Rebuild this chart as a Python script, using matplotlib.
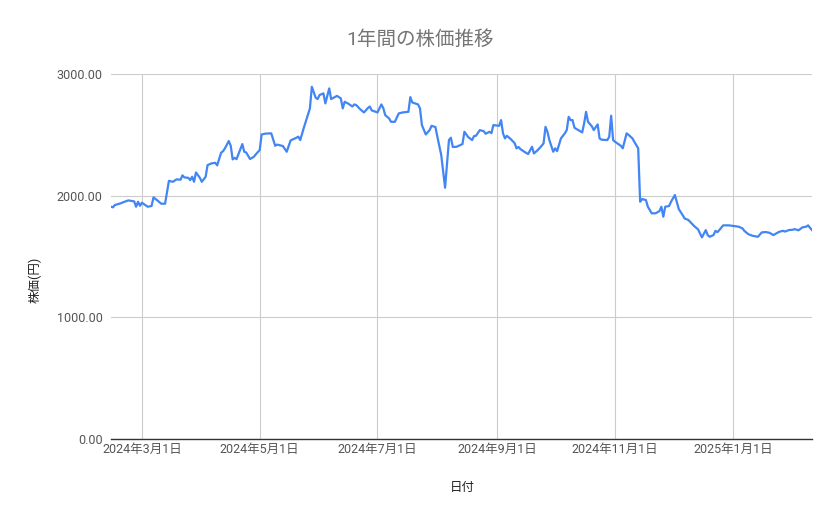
import matplotlib
matplotlib.use("Agg")
import matplotlib.pyplot as plt
import pandas as pd

plt.rcParams['font.family'] = ['Roboto', 'Noto Sans CJK JP', 'DejaVu Sans']

title = "1年間の株価推移"
x_label = "日付"
y_label = "株価(円)"

dates = [
    "2024-02-14", "2024-02-15", "2024-02-16", "2024-02-19", "2024-02-21", "2024-02-23",
    "2024-02-25", "2024-02-26", "2024-02-27", "2024-02-28", "2024-02-29", "2024-03-01",
    "2024-03-02", "2024-03-03", "2024-03-04", "2024-03-06", "2024-03-07", "2024-03-09",
    "2024-03-11", "2024-03-13", "2024-03-15", "2024-03-17", "2024-03-19", "2024-03-21",
    "2024-03-22", "2024-03-23", "2024-03-25", "2024-03-26", "2024-03-27", "2024-03-28",
    "2024-03-29", "2024-03-31", "2024-04-01", "2024-04-03", "2024-04-04", "2024-04-06",
    "2024-04-08", "2024-04-09", "2024-04-11", "2024-04-12", "2024-04-13", "2024-04-15",
    "2024-04-16", "2024-04-17", "2024-04-18", "2024-04-19", "2024-04-22", "2024-04-23",
    "2024-04-24", "2024-04-26", "2024-04-28", "2024-04-29", "2024-05-01", "2024-05-02",
    "2024-05-04", "2024-05-07", "2024-05-09", "2024-05-10", "2024-05-13", "2024-05-15",
    "2024-05-17", "2024-05-20", "2024-05-21", "2024-05-22", "2024-05-24", "2024-05-27",
    "2024-05-28", "2024-05-30", "2024-05-31", "2024-06-01", "2024-06-03", "2024-06-04",
    "2024-06-06", "2024-06-07", "2024-06-10", "2024-06-12", "2024-06-13", "2024-06-14",
    "2024-06-16", "2024-06-18", "2024-06-19", "2024-06-20", "2024-06-22", "2024-06-24",
    "2024-06-26", "2024-06-27", "2024-06-28", "2024-07-01", "2024-07-03", "2024-07-04",
    "2024-07-05", "2024-07-07", "2024-07-08", "2024-07-10", "2024-07-12", "2024-07-14",
    "2024-07-17", "2024-07-18", "2024-07-19", "2024-07-22", "2024-07-23", "2024-07-24",
    "2024-07-26", "2024-07-28", "2024-07-29", "2024-07-31", "2024-08-01", "2024-08-03",
    "2024-08-05", "2024-08-07", "2024-08-08", "2024-08-09", "2024-08-11", "2024-08-14",
    "2024-08-15", "2024-08-17", "2024-08-19", "2024-08-20", "2024-08-21", "2024-08-23",
    "2024-08-25", "2024-08-26", "2024-08-28", "2024-08-29", "2024-08-30", "2024-09-02",
    "2024-09-03", "2024-09-04", "2024-09-05", "2024-09-06", "2024-09-08", "2024-09-10",
    "2024-09-11", "2024-09-12", "2024-09-13", "2024-09-15", "2024-09-17", "2024-09-19",
    "2024-09-20", "2024-09-22", "2024-09-24", "2024-09-25", "2024-09-26", "2024-09-27",
    "2024-09-28", "2024-09-30", "2024-10-01", "2024-10-02", "2024-10-04", "2024-10-06",
    "2024-10-07", "2024-10-08", "2024-10-09", "2024-10-10", "2024-10-11", "2024-10-13",
    "2024-10-15", "2024-10-16", "2024-10-17", "2024-10-18", "2024-10-20", "2024-10-21",
    "2024-10-23", "2024-10-24", "2024-10-25", "2024-10-28", "2024-10-29", "2024-10-30",
    "2024-10-31", "2024-11-01", "2024-11-04", "2024-11-05", "2024-11-07", "2024-11-08",
    "2024-11-10", "2024-11-11", "2024-11-13", "2024-11-14", "2024-11-15", "2024-11-17",
    "2024-11-18", "2024-11-20", "2024-11-22", "2024-11-24", "2024-11-25", "2024-11-26",
    "2024-11-27", "2024-11-29", "2024-11-30", "2024-12-02", "2024-12-04", "2024-12-06",
    "2024-12-07", "2024-12-09", "2024-12-12", "2024-12-14", "2024-12-16", "2024-12-18",
    "2024-12-19", "2024-12-20", "2024-12-22", "2024-12-23", "2024-12-24", "2024-12-25",
    "2024-12-27", "2024-12-30", "2025-01-04", "2025-01-06", "2025-01-07", "2025-01-09",
    "2025-01-11", "2025-01-14", "2025-01-16", "2025-01-18", "2025-01-20", "2025-01-22",
    "2025-01-25", "2025-01-27", "2025-01-28", "2025-01-30", "2025-02-01", "2025-02-02",
    "2025-02-04", "2025-02-06", "2025-02-08", "2025-02-09", "2025-02-10", "2025-02-11",
]

prices = [
    1909, 1904, 1923, 1937, 1950, 1961,
    1956, 1953, 1909, 1950, 1917, 1942,
    1931, 1920, 1909, 1915, 1986, 1961,
    1934, 1934, 2122, 2114, 2134, 2131,
    2167, 2150, 2147, 2128, 2155, 2114,
    2191, 2147, 2114, 2155, 2251, 2265,
    2270, 2249, 2353, 2365, 2389, 2449,
    2410, 2298, 2311, 2300, 2424, 2361,
    2355, 2301, 2320, 2340, 2375, 2503,
    2510, 2512, 2410, 2420, 2408, 2361,
    2454, 2476, 2485, 2457, 2566, 2717,
    2895, 2805, 2794, 2827, 2841, 2758,
    2882, 2794, 2820, 2800, 2717, 2772,
    2755, 2733, 2750, 2744, 2711, 2684,
    2720, 2733, 2701, 2684, 2750, 2720,
    2662, 2635, 2607, 2607, 2676, 2684,
    2689, 2810, 2766, 2750, 2717, 2580,
    2503, 2539, 2574, 2564, 2484, 2334,
    2065, 2457, 2476, 2400, 2402, 2424,
    2525, 2481, 2457, 2490, 2492, 2539,
    2530, 2509, 2525, 2514, 2580, 2574,
    2621, 2512, 2471, 2492, 2465, 2432,
    2389, 2400, 2383, 2361, 2342, 2402,
    2347, 2375, 2410, 2430, 2566, 2525,
    2457, 2361, 2389, 2366, 2471, 2512,
    2539, 2648, 2621, 2621, 2558, 2539,
    2520, 2594, 2689, 2607, 2570, 2539,
    2586, 2471, 2460, 2457, 2484, 2657,
    2457, 2443, 2410, 2389, 2512, 2500,
    2471, 2443, 2389, 1950, 1972, 1964,
    1909, 1855, 1855, 1873, 1909, 1827,
    1909, 1915, 1950, 2005, 1890, 1841,
    1813, 1800, 1750, 1723, 1657, 1717,
    1676, 1662, 1676, 1711, 1700, 1717,
    1756, 1756, 1745, 1731, 1710, 1684,
    1671, 1662, 1698, 1701, 1695, 1676,
    1703, 1711, 1705, 1717, 1720, 1725,
    1715, 1739, 1745, 1756, 1735, 1717,
]

x_ticks = ["2024-03-01", "2024-05-01", "2024-07-01", "2024-09-01", "2024-11-01", "2025-01-01"]
x_tick_labels = ["2024年3月1日", "2024年5月1日", "2024年7月1日", "2024年9月1日", "2024年11月1日", "2025年1月1日"]
y_ticks = [0, 1000, 2000, 3000]

d = pd.to_datetime(dates)
fig = plt.figure(figsize=(8.39, 5.19), dpi=100)
ax = fig.add_axes([111 / 839, (519 - 439) / 519, (812 - 111) / 839, (439 - 74) / 519])

ax.plot(d, prices, color="#4285F4", linewidth=1.6, solid_joinstyle="round", zorder=3)

ax.set_xlim(d.min(), d.max())
ax.set_ylim(0, 3000)
ax.set_xticks(pd.to_datetime(x_ticks))
ax.set_xticklabels(x_tick_labels)
ax.set_yticks(y_ticks)
ax.set_yticklabels([f"{v:.2f}" for v in y_ticks])

ax.grid(True, color="#cccccc", linewidth=0.8, zorder=0)
for s in ["top", "right", "left"]:
    ax.spines[s].set_visible(False)
ax.spines["bottom"].set_color("#333333")
ax.spines["bottom"].set_linewidth(1.0)
ax.tick_params(axis="both", length=0, labelsize=9, labelcolor="#555555")
ax.tick_params(axis="x", pad=3)
ax.tick_params(axis="y", pad=6)

fig.text(420 / 839, 1 - 40 / 519, title, ha="center", va="center", fontsize=14, color="#757575")
fig.text(462 / 839, 1 - 487 / 519, x_label, ha="center", va="center", fontsize=9, color="#222222")
fig.text(35 / 839, 1 - 280 / 519, y_label, ha="center", va="center", fontsize=9, color="#222222", rotation=90)

fig.savefig("out.png", dpi=100)
